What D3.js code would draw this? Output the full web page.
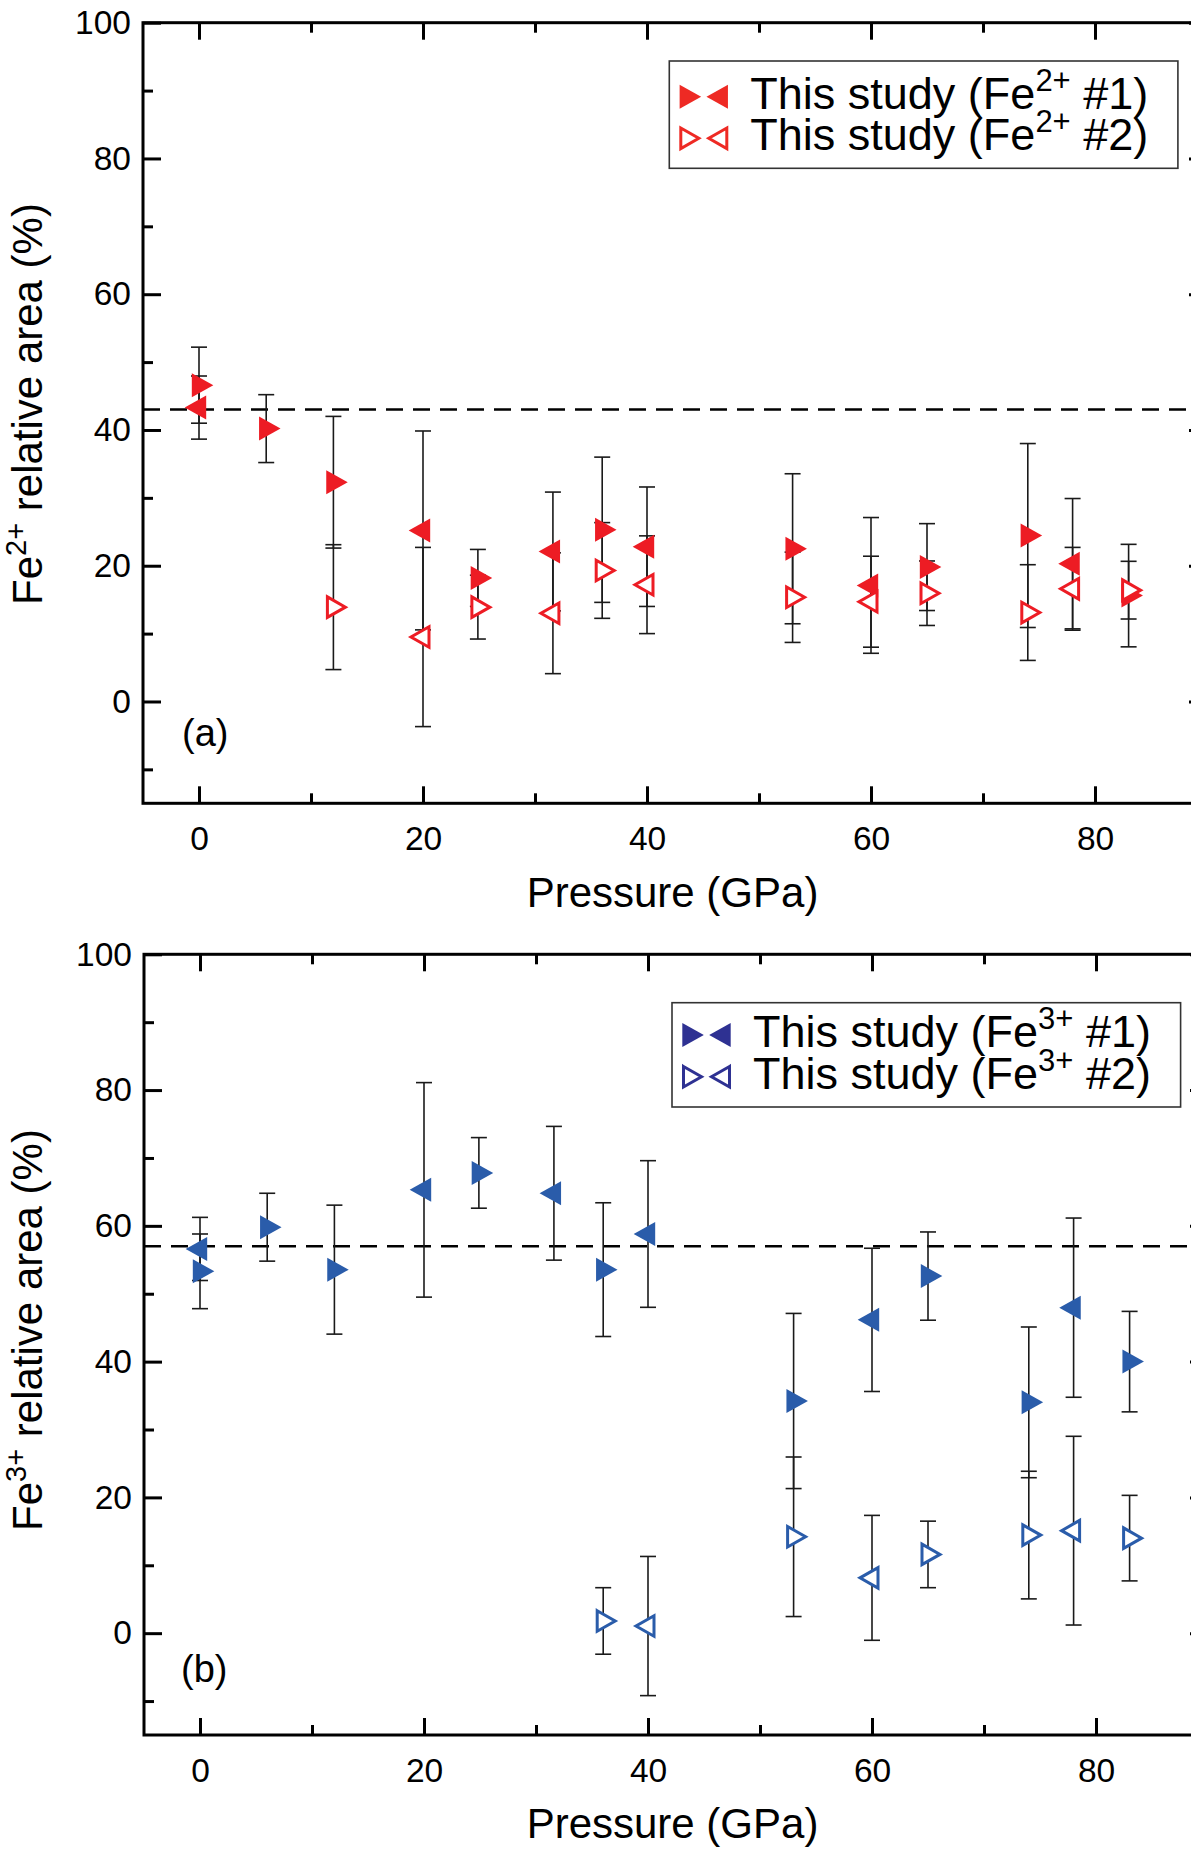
<!DOCTYPE html>
<html><head><meta charset="utf-8">
<script src="https://cdn.jsdelivr.net/npm/d3@7"></script>
<style>
body{margin:0;background:#fff}
svg{display:block;background:#fff}
text{font-family:"Liberation Sans",Arial,Helvetica,sans-serif;fill:#000}
</style>
</head><body>
<svg id="chart" width="1191" height="1850"></svg>
<script>
// ---------------- DATA ----------------
// shapes: "R" = right-pointing triangle, "L" = left-pointing triangle
const fe2Set1Pressure = [0, 0, 6, 12, 20, 24.9, 31.6, 36, 40, 53, 60, 65, 74, 78, 83];
const fe2Set1Value    = [46.6, 43.3, 40.2, 32.3, 25.2, 18.2, 22.1, 25.3, 22.8, 22.5, 17.1, 19.8, 24.45, 20.3, 15.6];
const fe2Set1Error    = [5.6, 4.65, 5.0, 9.7, 14.65, 4.2, 8.75, 10.7, 8.8, 11.05, 10.0, 6.4, 13.55, 9.6, 7.55];
const fe2Set1Shape    = ["R","L","R","R","L","R","L","R","L","R","L","R","R","L","R"];

const fe2Set2Pressure = [12, 20, 24.9, 31.6, 36, 40, 53, 60, 65, 74, 78, 83];
const fe2Set2Value    = [13.9, 9.5, 13.9, 13.0, 19.3, 17.2, 15.35, 14.7, 15.95, 13.1, 16.6, 16.4];
const fe2Set2Error    = [9.2, 13.2, 4.7, 8.9, 7.05, 7.2, 6.65, 6.7, 4.75, 7.05, 6.1, 4.25];
const fe2Set2Shape    = ["R","L","R","L","R","L","R","L","R","R","L","R"];

const fe3Set1Pressure = [0, 0, 6, 12, 20, 24.9, 31.6, 36, 40, 53, 60, 65, 74, 78, 83];
const fe3Set1Value    = [56.6, 53.3, 59.8, 53.55, 65.3, 67.8, 64.8, 53.55, 58.8, 34.2, 46.15, 52.6, 34.0, 47.95, 40.0];
const fe3Set1Error    = [4.65, 5.5, 5.0, 9.5, 15.8, 5.2, 9.85, 9.85, 10.8, 12.9, 10.55, 6.5, 11.1, 13.2, 7.4];
const fe3Set1Shape    = ["L","R","R","R","L","R","L","R","L","R","L","R","R","L","R"];

const fe3Set2Pressure = [36, 40, 53, 60, 65, 74, 78, 83];
const fe3Set2Value    = [1.8, 1.05, 14.2, 8.15, 11.6, 14.45, 15.1, 14.0];
const fe3Set2Error    = [4.9, 10.25, 11.75, 9.2, 4.9, 9.4, 13.9, 6.3];
const fe3Set2Shape    = ["R","L","R","L","R","R","L","R"];

const fe2Reference = 43;
const fe3Reference = 57;

const xDomain = [-5, 90];
const yDomain = [-15, 100];
const xMajorTicks = [0, 20, 40, 60, 80];
const xMinorTicks = [10, 30, 50, 70];
const yMajorTicks = [0, 20, 40, 60, 80, 100];
const yMinorTicks = [-10, 10, 30, 50, 70, 90];

const xAxisTitle = "Pressure (GPa)";
const legendSampleLabels = ["#1", "#2"];
// --------------------------------------

const svg = d3.select("#chart");
const RED = "#ED1C24", BLUE = "#2A5CAA";

function zip(p, v, e, s) { return p.map((d, i) => ({p: d, v: v[i], e: e[i], s: s[i]})); }

function triPath(dir, w, h) {
  // centroid at origin
  const a = w / 3, b = 2 * w / 3, hh = h / 2;
  if (dir === "R") return `M${-a},${-hh}L${b},0L${-a},${hh}Z`;
  return `M${a},${-hh}L${-b},0L${a},${hh}Z`;
}

function drawMarker(g, cx, cy, dir, color, filled) {
  if (filled) {
    g.append("path").attr("d", triPath(dir, 21.5, 24))
      .attr("transform", `translate(${cx},${cy})`)
      .attr("fill", color).attr("stroke", "none");
  } else {
    g.append("path").attr("d", triPath(dir, 18, 20.5))
      .attr("transform", `translate(${cx},${cy})`)
      .attr("fill", "#fff").attr("stroke", color).attr("stroke-width", 3)
      .attr("stroke-linejoin", "miter");
  }
}

function drawPanel(cfg) {
  const x = d3.scaleLinear().domain(xDomain).range(cfg.xRange);
  const y = d3.scaleLinear().domain(yDomain).range(cfg.yRange);
  const g = svg.append("g");

  // reference dashed line
  g.append("line")
    .attr("x1", x(xDomain[0])).attr("x2", x(xDomain[1]))
    .attr("y1", y(cfg.ref)).attr("y2", y(cfg.ref))
    .attr("stroke", "#000").attr("stroke-width", 2.5)
    .attr("stroke-dasharray", "17,10");

  // error bars
  const eb = g.append("g").attr("stroke", "#1a1a1a").attr("stroke-width", 1.6);
  [cfg.set1, cfg.set2].forEach(set => {
    set.forEach(d => {
      const xx = x(d.p), y1 = y(d.v - d.e), y2 = y(d.v + d.e);
      eb.append("line").attr("x1", xx).attr("x2", xx).attr("y1", y1).attr("y2", y2);
      eb.append("line").attr("x1", xx - 8).attr("x2", xx + 8).attr("y1", y1).attr("y2", y1);
      eb.append("line").attr("x1", xx - 8).attr("x2", xx + 8).attr("y1", y2).attr("y2", y2);
    });
  });

  // markers
  const mk = g.append("g");
  cfg.set1.forEach(d => drawMarker(mk, x(d.p), y(d.v), d.s, cfg.color, true));
  cfg.set2.forEach(d => drawMarker(mk, x(d.p), y(d.v), d.s, cfg.color, false));

  // frame
  g.append("rect")
    .attr("x", x(xDomain[0])).attr("y", y(yDomain[1]))
    .attr("width", x(xDomain[1]) - x(xDomain[0]))
    .attr("height", y(yDomain[0]) - y(yDomain[1]))
    .attr("fill", "none").attr("stroke", "#000").attr("stroke-width", 3);

  function styleAxis(sel) {
    sel.select(".domain").remove();
    sel.selectAll(".tick line").attr("stroke", "#000").attr("stroke-width", 3);
    sel.selectAll(".tick text").attr("font-size", 33.5).attr("fill", "#000")
      .attr("font-family", '"Liberation Sans",Arial,sans-serif');
  }

  // left
  g.append("g").attr("transform", `translate(${x(xDomain[0])},0)`)
    .call(d3.axisLeft(y).tickValues(yMajorTicks).tickSize(-18).tickSizeOuter(0).tickPadding(12).tickFormat(d3.format("d")))
    .call(styleAxis);
  g.append("g").attr("transform", `translate(${x(xDomain[0])},0)`)
    .call(d3.axisLeft(y).tickValues(yMinorTicks).tickSize(-10).tickSizeOuter(0).tickFormat(""))
    .call(styleAxis);
  // right
  g.append("g").attr("transform", `translate(${x(xDomain[1])},0)`)
    .call(d3.axisRight(y).tickValues(yMajorTicks).tickSize(-18).tickSizeOuter(0).tickFormat(""))
    .call(styleAxis);
  g.append("g").attr("transform", `translate(${x(xDomain[1])},0)`)
    .call(d3.axisRight(y).tickValues(yMinorTicks).tickSize(-10).tickSizeOuter(0).tickFormat(""))
    .call(styleAxis);
  // top
  g.append("g").attr("transform", `translate(0,${y(yDomain[1])})`)
    .call(d3.axisTop(x).tickValues(xMajorTicks).tickSize(-17).tickSizeOuter(0).tickFormat(""))
    .call(styleAxis);
  g.append("g").attr("transform", `translate(0,${y(yDomain[1])})`)
    .call(d3.axisTop(x).tickValues(xMinorTicks).tickSize(-10).tickSizeOuter(0).tickFormat(""))
    .call(styleAxis);
  // bottom
  g.append("g").attr("transform", `translate(0,${y(yDomain[0])})`)
    .call(d3.axisBottom(x).tickValues(xMajorTicks).tickSize(-17).tickSizeOuter(0).tickPadding(23).tickFormat(d3.format("d")))
    .call(styleAxis);
  g.append("g").attr("transform", `translate(0,${y(yDomain[0])})`)
    .call(d3.axisBottom(x).tickValues(xMinorTicks).tickSize(-10).tickSizeOuter(0).tickFormat(""))
    .call(styleAxis);

  // x title
  g.append("text").attr("x", cfg.xTitlePos[0]).attr("y", cfg.xTitlePos[1])
    .attr("text-anchor", "middle").attr("font-size", 42).text(xAxisTitle);

  // y title
  const yt = g.append("text")
    .attr("transform", `translate(${cfg.yTitlePos[0]},${cfg.yTitlePos[1]}) rotate(-90)`)
    .attr("text-anchor", "middle").attr("font-size", 42);
  yt.append("tspan").text("Fe");
  yt.append("tspan").attr("font-size", 29).attr("dy", -16).text(cfg.ion);
  yt.append("tspan").attr("dy", 16).text(" relative area (%)");

  // panel label
  g.append("text").attr("x", cfg.panelLabelPos[0]).attr("y", cfg.panelLabelPos[1])
    .attr("font-size", 38).text(cfg.panelLabel);

  // legend
  const L = cfg.legend;
  const lg = g.append("g").attr("transform", `translate(${L.x},${L.y})`);
  lg.append("rect").attr("width", L.w).attr("height", L.h)
    .attr("fill", "#fff").attr("stroke", "#333").attr("stroke-width", 1.6);
  legendSampleLabels.forEach((lab, i) => {
    const cy = L.rows[i];
    drawMarker(lg, 17.5, cy, "R", L.color, i === 0);
    drawMarker(lg, 51.5, cy, "L", L.color, i === 0);
    const t = lg.append("text").attr("x", 81).attr("y", cy + 12).attr("font-size", 45);
    t.append("tspan").text("This study (Fe");
    t.append("tspan").attr("font-size", 31).attr("dy", -18).text(cfg.ion);
    t.append("tspan").attr("dy", 18).text(" " + lab + ")");
  });
}

drawPanel({
  xRange: [143, 1207], yRange: [803.3, 22.7], ref: fe2Reference, color: RED,
  set1: zip(fe2Set1Pressure, fe2Set1Value, fe2Set1Error, fe2Set1Shape),
  set2: zip(fe2Set2Pressure, fe2Set2Value, fe2Set2Error, fe2Set2Shape),
  xTitlePos: [672.5, 907], yTitlePos: [42, 404], ion: "2+",
  panelLabel: "(a)", panelLabelPos: [182, 745.5],
  legend: {x: 669.3, y: 61, w: 508.6, h: 107.3, rows: [35.7, 77.3], color: "#EE2A24"}
});

drawPanel({
  xRange: [144, 1208], yRange: [1735, 954.3], ref: fe3Reference, color: BLUE,
  set1: zip(fe3Set1Pressure, fe3Set1Value, fe3Set1Error, fe3Set1Shape),
  set2: zip(fe3Set2Pressure, fe3Set2Value, fe3Set2Error, fe3Set2Shape),
  xTitlePos: [672.5, 1838], yTitlePos: [42, 1330], ion: "3+",
  panelLabel: "(b)", panelLabelPos: [181, 1681.5],
  legend: {x: 672, y: 1002.7, w: 508.6, h: 104.3, rows: [32.3, 74], color: "#2E3192"}
});
</script>
</body></html>
